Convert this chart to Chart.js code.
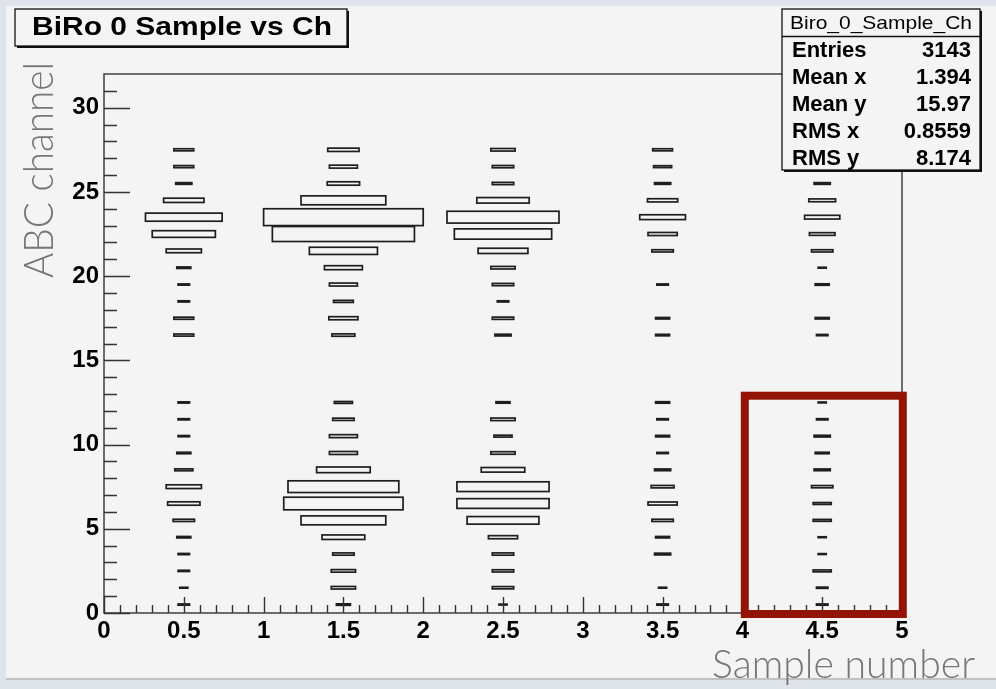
<!DOCTYPE html>
<html>
<head>
<meta charset="utf-8">
<script src="https://cdn.jsdelivr.net/npm/chart.js@4.4.1/dist/chart.umd.min.js"></script>
<style>
  html, body { margin: 0; padding: 0; background: #dfe4ea; }
  #c { display: block; }
</style>
</head>
<body>
<canvas id="c" width="996" height="689"></canvas>
<script>
// ---------- DATA ----------
const xBinCenters = [0.5, 1.5, 2.5, 3.5, 4.5];
const yBinCenters = [0.5, 1.5, 2.5, 3.5, 4.5, 5.5, 6.5, 7.5, 8.5, 9.5, 10.5, 11.5, 12.5, 13.5,
                     14.5, 15.5, 16.5, 17.5, 18.5, 19.5, 20.5, 21.5, 22.5, 23.5, 24.5, 25.5, 26.5, 27.5];
// bin contents per sample column, listed from channel bin 0.5 upward
const countsSample0 = [2, 1, 2, 2, 3, 7, 16, 19, 5, 3, 2, 2, 2, 0, 0, 0, 6, 6, 2, 2, 3, 19, 61, 90, 25, 4, 6, 6];
const countsSample1 = [3, 9, 9, 7, 28, 110, 218, 188, 44, 12, 12, 7, 5, 0, 0, 0, 8, 13, 6, 12, 22, 71, 309, 390, 110, 16, 12, 15];
const countsSample2 = [1, 7, 7, 7, 13, 79, 130, 130, 29, 9, 5, 9, 3, 0, 0, 0, 4, 7, 2, 7, 9, 38, 145, 192, 42, 7, 7, 9];
const countsSample3 = [2, 1, 0, 4, 3, 7, 13, 8, 4, 2, 3, 2, 3, 0, 0, 0, 3, 3, 0, 2, 0, 7, 13, 32, 14, 4, 5, 6];
const countsSample4 = [2, 2, 5, 1, 1, 5, 5, 7, 4, 3, 4, 2, 1, 0, 0, 0, 2, 3, 0, 3, 1, 7, 10, 19, 11, 4, 3, 4];

const xTickValues = [0, 0.5, 1, 1.5, 2, 2.5, 3, 3.5, 4, 4.5, 5];
const xTickLabels = ['0', '0.5', '1', '1.5', '2', '2.5', '3', '3.5', '4', '4.5', '5'];
const yTickValues = [0, 5, 10, 15, 20, 25, 30];
const yTickLabels = ['0', '5', '10', '15', '20', '25', '30'];

const titleText = 'BiRo 0 Sample vs Ch';
const statsName = 'Biro_0_Sample_Ch';
const statsLabels = ['Entries', 'Mean x', 'Mean y', 'RMS x', 'RMS y'];
const statsValues = ['3143', '1.394', '15.97', '0.8559', '8.174'];
const xAxisTitle = 'Sample number';
const yAxisTitle = 'ABC channel';
// highlighted region (data coordinates)
const highlightX = [4.015, 5.005];
const highlightY = [-0.06, 12.9];

// ---------- build points ----------
const allCounts = [countsSample0, countsSample1, countsSample2, countsSample3, countsSample4];
const points = [];
allCounts.forEach((col, i) => {
  col.forEach((c, j) => {
    if (c > 0) points.push({ x: xBinCenters[i], y: yBinCenters[j], c: c });
  });
});
const maxCount = Math.max(...points.map(p => p.c));

const FONT = '"Liberation Sans", Arial, Helvetica, sans-serif';
const LIGHT = 'Lato, "Open Sans", sans-serif';

const bgPlugin = {
  id: 'bg',
  beforeDraw(chart) {
    const ctx = chart.ctx;
    ctx.save();
    ctx.fillStyle = '#dfe4ea';
    ctx.fillRect(0, 0, chart.width, chart.height);
    ctx.fillStyle = '#f4f4f4';
    ctx.fillRect(6, 6, chart.width - 6, 672);
    ctx.fillStyle = '#c2c2c2';
    ctx.fillRect(6, 678, chart.width - 6, 2);
    ctx.restore();
  }
};

const boxPlugin = {
  id: 'boxes',
  afterDatasetsDraw(chart) {
    const ctx = chart.ctx;
    const xs = chart.scales.x, ys = chart.scales.y;
    const ds = chart.data.datasets[0].data;
    ctx.save();
    ctx.strokeStyle = '#1e1e1e';
    ctx.lineWidth = 1.7;
    ds.forEach(p => {
      const f = Math.sqrt(p.c / maxCount);
      const xl = xs.getPixelForValue(p.x - f / 2);
      const xr = xs.getPixelForValue(p.x + f / 2);
      const yt = ys.getPixelForValue(p.y + f / 2);
      const yb = ys.getPixelForValue(p.y - f / 2);
      ctx.strokeRect(xl, yt, xr - xl, yb - yt);
    });

    // frame
    const a = chart.chartArea;
    ctx.strokeStyle = '#333';
    ctx.lineWidth = 1.4;
    ctx.strokeRect(a.left, a.top, a.right - a.left, a.bottom - a.top);

    // ticks inside the frame
    ctx.beginPath();
    for (let k = 0; k <= 50; k++) {
      const v = k / 10;
      const px = Math.round(xs.getPixelForValue(v)) + 0.5;
      const len = (k % 5 === 0) ? 16 : 8;
      ctx.moveTo(px, a.bottom);
      ctx.lineTo(px, a.bottom - len);
    }
    for (let k = 0; k <= 31; k++) {
      const py = Math.round(ys.getPixelForValue(k)) + 0.5;
      const len = (k % 5 === 0) ? 26 : 13;
      ctx.moveTo(a.left, py);
      ctx.lineTo(a.left + len, py);
    }
    ctx.stroke();
    ctx.restore();
  },
  afterDraw(chart) {
    const ctx = chart.ctx;
    const xs = chart.scales.x, ys = chart.scales.y;
    ctx.save();

    // highlight rectangle
    ctx.strokeStyle = '#931405';
    ctx.lineWidth = 8;
    const hx0 = xs.getPixelForValue(highlightX[0]), hx1 = xs.getPixelForValue(highlightX[1]);
    const hy0 = ys.getPixelForValue(highlightY[1]), hy1 = ys.getPixelForValue(highlightY[0]);
    ctx.strokeRect(hx0, hy0, hx1 - hx0, hy1 - hy0);

    // title box
    function shadowBox(x, y, w, h) {
      ctx.fillStyle = '#111';
      ctx.fillRect(x + 2, y + 2, w, h);
      ctx.fillStyle = '#f4f4f4';
      ctx.fillRect(x, y, w, h);
      ctx.strokeStyle = '#111';
      ctx.lineWidth = 1.3;
      ctx.strokeRect(x, y, w, h);
    }
    function fitText(txt, cx, baseY, targetW, font, align) {
      ctx.font = font;
      const w = ctx.measureText(txt).width;
      const s = targetW / w;
      ctx.save();
      ctx.translate(cx, baseY);
      ctx.scale(s, 1);
      ctx.textAlign = align;
      ctx.textBaseline = 'alphabetic';
      ctx.fillText(txt, 0, 0);
      ctx.restore();
    }
    shadowBox(15, 9, 332, 37);
    ctx.fillStyle = '#000';
    fitText(titleText, 182, 35, 300, 'bold 25px ' + FONT, 'center');

    // stats box
    shadowBox(782, 9, 198, 161);
    ctx.beginPath();
    ctx.moveTo(782, 36.5); ctx.lineTo(980, 36.5);
    ctx.stroke();
    ctx.fillStyle = '#000';
    fitText(statsName, 881, 29, 182, '19px ' + FONT, 'center');
    ctx.font = 'bold 22px ' + FONT;
    ctx.textBaseline = 'alphabetic';
    const baselines = [57, 84, 111, 138, 165];
    statsLabels.forEach((lab, i) => {
      ctx.textAlign = 'left';
      ctx.fillText(lab, 792, baselines[i]);
      ctx.textAlign = 'right';
      ctx.fillText(statsValues[i], 971, baselines[i]);
    });

    // axis titles
    ctx.fillStyle = '#767676';
    ctx.save();
    ctx.translate(53, 278);
    ctx.rotate(-Math.PI / 2);
    ctx.font = '300 42px ' + LIGHT;
    const wy = ctx.measureText(yAxisTitle).width;
    ctx.scale(216 / wy, 1);
    ctx.textAlign = 'left';
    ctx.textBaseline = 'alphabetic';
    ctx.fillText(yAxisTitle, 0, 0);
    ctx.restore();

    ctx.font = '300 39px ' + LIGHT;
    const wx = ctx.measureText(xAxisTitle).width;
    ctx.save();
    ctx.translate(712, 678);
    ctx.scale(263 / wx, 1);
    ctx.textAlign = 'left';
    ctx.textBaseline = 'alphabetic';
    ctx.fillText(xAxisTitle, 0, 0);
    ctx.restore();

    ctx.restore();
  }
};

const tickFont = { family: FONT, weight: 'bold', size: 24 };

new Chart(document.getElementById('c').getContext('2d'), {
  type: 'scatter',
  data: {
    datasets: [{ data: points, pointRadius: 0, pointHoverRadius: 0, showLine: false }]
  },
  options: {
    responsive: false,
    animation: false,
    events: [],
    layout: { padding: { top: 74, right: 94, left: 0, bottom: 0 } },
    plugins: { legend: { display: false }, tooltip: { enabled: false } },
    scales: {
      x: {
        type: 'linear', min: 0, max: 5,
        afterFit(s) { s.height = 76; },
        afterBuildTicks(s) { s.ticks = xTickValues.map(v => ({ value: v })); },
        ticks: {
          autoSkip: false, maxRotation: 0, minRotation: 0, padding: 4, color: '#000', font: tickFont,
          callback: (v) => xTickLabels[xTickValues.indexOf(v)]
        },
        grid: { display: false, drawTicks: false },
        border: { display: false }
      },
      y: {
        type: 'linear', min: 0, max: 32,
        afterFit(s) { s.width = 104; },
        afterBuildTicks(s) { s.ticks = yTickValues.map(v => ({ value: v })); },
        ticks: {
          autoSkip: false, padding: 5, color: '#000', font: tickFont,
          callback: (v) => yTickLabels[yTickValues.indexOf(v)]
        },
        grid: { display: false, drawTicks: false },
        border: { display: false }
      }
    }
  },
  plugins: [bgPlugin, boxPlugin]
});
</script>
</body>
</html>
